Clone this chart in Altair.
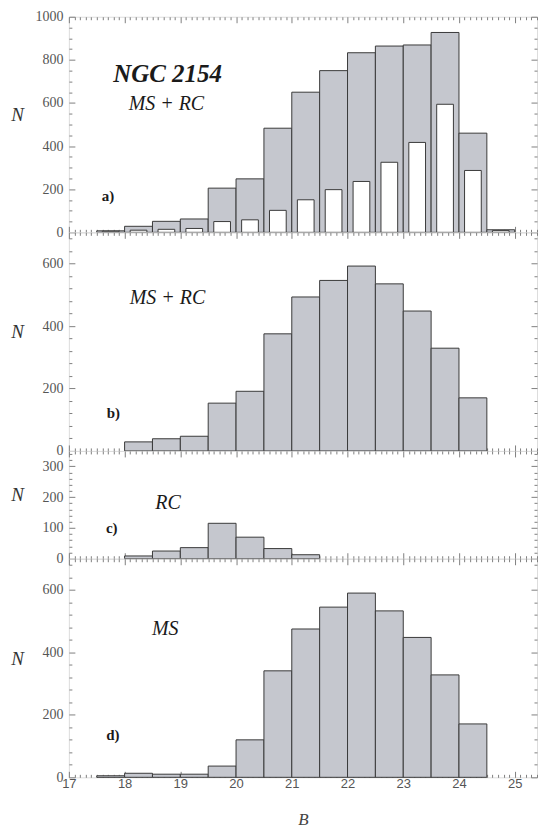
import altair as alt
import pandas as pd

# ---------------- data ----------------
bin_start = [17.5, 18.0, 18.5, 19.0, 19.5, 20.0, 20.5, 21.0, 21.5, 22.0, 22.5, 23.0, 23.5, 24.0, 24.5]
a_all = [7, 28, 51, 62, 205, 248, 483, 650, 750, 833, 864, 869, 927, 460, 12]
a_sub = [5, 10, 14, 18, 50, 58, 102, 151, 198, 236, 325, 417, 594, 287, 8]
b_vals = [0, 29, 39, 47, 153, 191, 375, 493, 546, 592, 535, 448, 329, 170, 0]
c_vals = [0, 9, 25, 36, 115, 70, 33, 13, 0, 0, 0, 0, 0, 0, 0]
d_vals = [5, 13, 10, 10, 36, 120, 341, 475, 545, 590, 533, 448, 328, 171, 0]

# tick values
x_major = [17, 18, 19, 20, 21, 22, 23, 24, 25]
x_minor = [round(17 + i * 0.1, 1) for i in range(85) if i % 10 != 0]
a_major = [0, 200, 400, 600, 800, 1000]
a_minor = [v for v in range(0, 1001, 50) if v % 200 != 0]
b_major = [0, 200, 400, 600]
b_minor = [v for v in range(0, 700, 40) if v % 200 != 0]
c_major = [0, 100, 200, 300]
c_minor = [v for v in range(0, 350, 20) if v % 100 != 0]

# annotations (data coordinates)
a_title = ["NGC 2154"]; a_title_x = [18.77]; a_title_y = [736]
a_lab = ["MS + RC"]; a_lab_x = [18.75]; a_lab_y = [593]
b_lab = ["MS + RC"]; b_lab_x = [18.77]; b_lab_y = [490]
c_lab = ["RC"]; c_lab_x = [18.78]; c_lab_y = [182]
d_lab = ["MS"]; d_lab_x = [18.73]; d_lab_y = [476]
tags = ["a)", "b)", "c)", "d)"]
tag_x = [17.70, 17.80, 17.77, 17.79]
tag_y = [167, 122, 100, 134]

# ---------------- styling ----------------
X0, X1 = 17.0, 25.4
PW = 469
GRAY = "#c5c7ce"
EDGE = "#3a3a3a"
TICK = "#808080"
SERIF = "Liberation Serif"
SANS = "Liberation Sans"


def make_df(vals):
    df = pd.DataFrame({"start": bin_start, "n": vals})
    return df[df["n"] > 0].reset_index(drop=True)


def tick_axis(orient, values, size):
    return alt.Axis(orient=orient, values=values, labels=False, domain=False, grid=False,
                    ticks=True, tickSize=size, offset=-size, tickColor=TICK, tickWidth=1,
                    title=None)


def text_layer(labels, xv, yv, xs, ys, size, weight, style):
    df = pd.DataFrame({"x": xv, "y": yv, "t": labels})
    return alt.Chart(df).mark_text(font=SERIF, fontSize=size, fontWeight=weight,
                                   fontStyle=style, color="#1a1a1a",
                                   align="center", baseline="middle").encode(
        x=alt.X("x:Q", scale=xs, axis=None),
        y=alt.Y("y:Q", scale=ys, axis=None),
        text="t:N")


def panel(vals, ymax, h, y_major, y_minor, texts, sub=None, bottom=False):
    df = make_df(vals)
    xs = alt.Scale(domain=[X0, X1], nice=False, zero=False)
    ys = alt.Scale(domain=[0, ymax], nice=False, zero=True)
    if bottom:
        x_lab = alt.Axis(orient="bottom", values=x_major, ticks=False, domain=False, grid=False,
                         labelFont=SANS, labelFontSize=13, labelColor="#555", labelPadding=0,
                         labelFlush=False, format="d", title="B", titleFont=SERIF,
                         titleFontStyle="italic", titleFontWeight="normal", titleFontSize=17,
                         titleColor="#444", titlePadding=21)
    else:
        x_lab = None
    y_lab = alt.Axis(orient="left", values=y_major, ticks=False, domain=False, grid=False,
                     labelFont=SERIF, labelFontSize=14, labelColor="#555", labelPadding=6,
                     labelFlush=False, format="d", title="N", titleAngle=0, titleFont=SERIF,
                     titleFontStyle="italic", titleFontWeight="normal", titleFontSize=19,
                     titleColor="#333", titleX=-52, titleY=h / 2 - 10,
                     titleAlign="center", titleBaseline="middle")
    bars = alt.Chart(df).transform_calculate(end="datum.start + 0.5").mark_rect(
        fill=GRAY, stroke=EDGE, strokeWidth=1).encode(
        x=alt.X("start:Q", scale=xs, axis=x_lab),
        x2="end:Q",
        y=alt.Y("n:Q", scale=ys, axis=y_lab),
        y2=alt.datum(0))
    layers = [bars]
    if sub is not None:
        sdf = make_df(sub)
        layers.append(alt.Chart(sdf).transform_calculate(
            x0="datum.start + 0.1", x1="datum.start + 0.4").mark_rect(
            fill="white", stroke=EDGE, strokeWidth=1).encode(
            x=alt.X("x0:Q", scale=xs, axis=None), x2="x1:Q",
            y=alt.Y("n:Q", scale=ys, axis=None), y2=alt.datum(0)))

    def carrier(xa, ya):
        return alt.Chart(df).mark_point(opacity=0).encode(
            x=alt.X("start:Q", scale=xs, axis=xa),
            y=alt.Y("n:Q", scale=ys, axis=ya))

    layers += [
        carrier(tick_axis("bottom", x_major, 6), tick_axis("left", y_major, 6)),
        carrier(tick_axis("bottom", x_minor, 3), tick_axis("left", y_minor, 3)),
        carrier(tick_axis("top", x_major, 6), tick_axis("right", y_major, 6)),
        carrier(tick_axis("top", x_minor, 3), tick_axis("right", y_minor, 3)),
    ]
    for (labels, xv, yv, size, weight, style) in texts:
        layers.append(text_layer(labels, xv, yv, xs, ys, size, weight, style))
    return alt.layer(*layers).resolve_axis(x="independent", y="independent").properties(
        width=PW, height=h)


pa = panel(a_all, 1000, 216, a_major, a_minor, [
    (a_title, a_title_x, a_title_y, 25, "bold", "italic"),
    (a_lab, a_lab_x, a_lab_y, 20, "normal", "italic"),
    ([tags[0]], [tag_x[0]], [tag_y[0]], 15, "bold", "normal"),
], sub=a_sub)
pb = panel(b_vals, 700, 219, b_major, b_minor, [
    (b_lab, b_lab_x, b_lab_y, 20, "normal", "italic"),
    ([tags[1]], [tag_x[1]], [tag_y[1]], 15, "bold", "normal"),
])
pc = panel(c_vals, 350, 108, c_major, c_minor, [
    (c_lab, c_lab_x, c_lab_y, 20, "normal", "italic"),
    ([tags[2]], [tag_x[2]], [tag_y[2]], 15, "bold", "normal"),
])
pd_ = panel(d_vals, 700, 219, b_major, b_minor, [
    (d_lab, d_lab_x, d_lab_y, 20, "normal", "italic"),
    ([tags[3]], [tag_x[3]], [tag_y[3]], 15, "bold", "normal"),
], bottom=True)

chart = alt.vconcat(pa, pb, pc, pd_, spacing=0, bounds="flush").properties(
    padding={"left": 10, "top": 8, "right": 0, "bottom": 0}
).configure_view(stroke="#555", strokeWidth=1).configure(background="white")

chart.save("out.html", embed_options={"renderer": "svg", "actions": False})
